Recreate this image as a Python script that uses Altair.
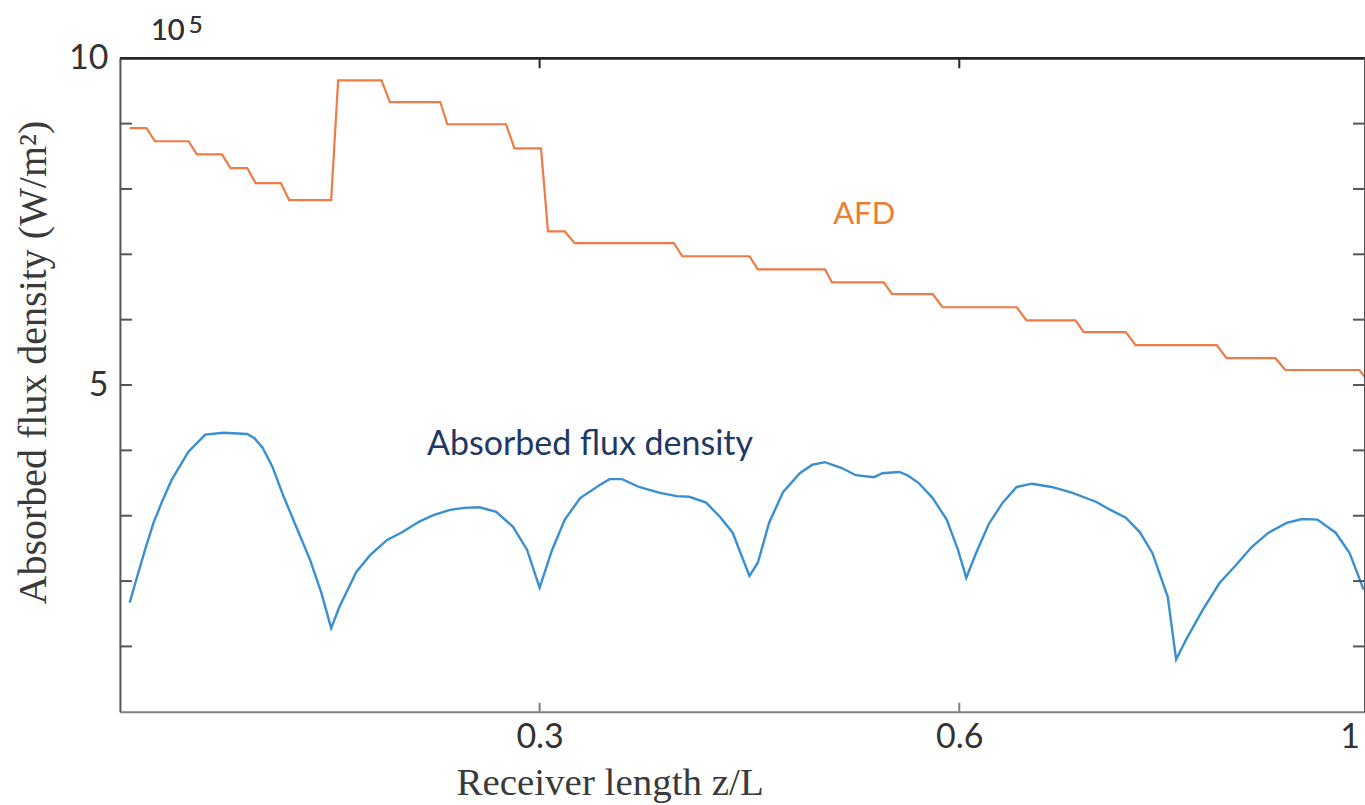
import altair as alt
import pandas as pd

# ---- data (z/L, flux density in 10^5 W/m^2) ----
afd_x = [0.007, 0.019, 0.025, 0.049, 0.055, 0.073, 0.079, 0.091, 0.097, 0.115,
         0.121, 0.151, 0.156, 0.187, 0.193, 0.229, 0.234, 0.276, 0.282, 0.301,
         0.306, 0.318, 0.325, 0.396, 0.402, 0.450, 0.456, 0.504, 0.509, 0.546,
         0.552, 0.581, 0.588, 0.641, 0.648, 0.683, 0.689, 0.719, 0.726, 0.784,
         0.791, 0.826, 0.833, 0.886, 0.890]
afd_y = [8.93, 8.93, 8.73, 8.73, 8.53, 8.53, 8.32, 8.32, 8.09, 8.09,
         7.83, 7.83, 9.66, 9.66, 9.33, 9.33, 8.99, 8.99, 8.62, 8.62,
         7.35, 7.35, 7.17, 7.17, 6.97, 6.97, 6.77, 6.77, 6.57, 6.57,
         6.39, 6.39, 6.19, 6.19, 5.99, 5.99, 5.81, 5.81, 5.61, 5.61,
         5.41, 5.41, 5.23, 5.23, 5.12]

abs_x = [0.007, 0.011, 0.018, 0.024, 0.030, 0.037, 0.049, 0.061, 0.074, 0.091,
         0.096, 0.102, 0.109, 0.116, 0.126, 0.136, 0.144, 0.151, 0.157, 0.169,
         0.179, 0.191, 0.202, 0.214, 0.224, 0.236, 0.246, 0.257, 0.269, 0.281,
         0.291, 0.300, 0.309, 0.318, 0.329, 0.343, 0.350, 0.359, 0.371, 0.386,
         0.398, 0.407, 0.419, 0.429, 0.438, 0.450, 0.456, 0.464, 0.474, 0.486,
         0.495, 0.504, 0.516, 0.526, 0.539, 0.545, 0.557, 0.563, 0.571, 0.581,
         0.591, 0.599, 0.605, 0.612, 0.621, 0.631, 0.641, 0.652, 0.666, 0.681,
         0.698, 0.707, 0.719, 0.729, 0.738, 0.749, 0.755, 0.762, 0.774, 0.786,
         0.798, 0.809, 0.821, 0.834, 0.845, 0.856, 0.869, 0.879, 0.889]
abs_y = [1.67, 1.97, 2.48, 2.89, 3.21, 3.55, 3.98, 4.24, 4.27, 4.25,
         4.19, 4.04, 3.75, 3.35, 2.83, 2.32, 1.82, 1.28, 1.61, 2.14,
         2.40, 2.63, 2.75, 2.91, 3.01, 3.09, 3.12, 3.13, 3.06, 2.83,
         2.48, 1.90, 2.48, 2.94, 3.27, 3.47, 3.56, 3.56, 3.44, 3.35,
         3.30, 3.29, 3.20, 2.98, 2.74, 2.08, 2.28, 2.89, 3.36, 3.65,
         3.78, 3.82, 3.73, 3.62, 3.59, 3.65, 3.67, 3.62, 3.50, 3.27,
         2.94, 2.48, 2.05, 2.43, 2.87, 3.20, 3.44, 3.49, 3.44, 3.35,
         3.21, 3.10, 2.97, 2.75, 2.43, 1.76, 0.80, 1.10, 1.56, 1.97,
         2.25, 2.52, 2.74, 2.89, 2.95, 2.94, 2.74, 2.43, 1.87]

x_tick_marks = [0.3, 0.6]
x_label_values = [0.3, 0.6, 0.879]
y_tick_marks = [1, 2, 3, 4, 5, 6, 7, 8, 9]
y_label_values = [5, 10]

ann_text = ["AFD", "Absorbed flux density"]
ann_x = [0.532, 0.336]
ann_y = [7.46, 3.93]
ann_color = ["#ED7D31", "#1F3864"]
ann_size = [31, 34]

W, H = 1246, 654
xs = alt.Scale(domain=[0, 0.89], nice=False, zero=False)
ys = alt.Scale(domain=[0, 10], nice=False, zero=True)

afd = pd.DataFrame({"z": afd_x, "q": afd_y})
absd = pd.DataFrame({"z": abs_x, "q": abs_y})
xt = pd.DataFrame({"z": x_tick_marks})
yt = pd.DataFrame({"q": y_tick_marks})
ann = pd.DataFrame({"z": ann_x, "q": ann_y, "t": ann_text, "c": ann_color, "s": ann_size})

xaxis = alt.Axis(values=x_label_values,
                 labelExpr="datum.value > 0.8 ? '1' : format(datum.value, '.1f')",
                 tickSize=0, domainColor="#7f7f7f", domainWidth=2, grid=False,
                 labelFont="Lato", labelFontSize=34, labelColor="#333333",
                 labelPadding=9, labelFlush=False, labelOverlap=False,
                 title="Receiver length z/L", titleFont="Liberation Serif",
                 titleFontSize=39, titleFontWeight="normal", titleColor="#3a3a3a",
                 titleX=490, titleY=83, titleAlign="center", titleBaseline="alphabetic")
yaxis = alt.Axis(values=y_label_values, tickSize=0, domainColor="#555555",
                 domainWidth=2, grid=False, labelFont="Lato", labelFontSize=34,
                 labelColor="#333333", labelPadding=12, labelFlush=False,
                 title="Absorbed flux density (W/m²)", titleFont="Liberation Serif",
                 titleFontSize=40, titleFontWeight="normal", titleColor="#3a3a3a",
                 titleAngle=270, titleX=-74, titleY=304, titleAlign="center",
                 titleBaseline="alphabetic")

X = alt.X("z:Q", scale=xs, axis=xaxis)
Y = alt.Y("q:Q", scale=ys, axis=yaxis)

orange = alt.Chart(afd).mark_line(color="#EE7B45", strokeWidth=2.2, clip=True).encode(
    x=X, y=Y)
blue = alt.Chart(absd).mark_line(color="#3A8FD0", strokeWidth=2.4, clip=True).encode(
    x=X, y=Y)

top_ticks = alt.Chart(xt).mark_rule(color="#262626", strokeWidth=2).encode(
    x=X, y=alt.value(0), y2=alt.value(10))
bot_ticks = alt.Chart(xt).mark_rule(color="#7f7f7f", strokeWidth=2).encode(
    x=X, y=alt.value(H), y2=alt.value(H - 9))
left_ticks = alt.Chart(yt).mark_rule(color="#555555", strokeWidth=2).encode(
    y=Y, x=alt.value(0), x2=alt.value(12))
right_ticks = alt.Chart(yt).mark_rule(color="#555555", strokeWidth=2).encode(
    y=Y, x=alt.value(W), x2=alt.value(W - 12))
top_border = alt.Chart(xt).mark_rule(color="#262626", strokeWidth=2.5).encode(
    y=alt.value(0), x=alt.value(0), x2=alt.value(W))
right_border = alt.Chart(xt).mark_rule(color="#555555", strokeWidth=2).encode(
    x=alt.value(W), y=alt.value(0), y2=alt.value(H))

labels = alt.Chart(ann).mark_text(font="Lato", baseline="alphabetic",
                                  align="center").encode(
    x=X, y=Y, text="t:N", color=alt.Color("c:N", scale=None),
    size=alt.Size("s:Q", scale=None))

exp_base = alt.Chart(xt).mark_text(font="Lato", fontSize=29, color="#333333",
                                   align="left", baseline="alphabetic").encode(
    x=alt.value(31), y=alt.value(-18), text=alt.value("10"))
exp_pow = alt.Chart(xt).mark_text(font="Lato", fontSize=24, color="#333333",
                                  align="left", baseline="alphabetic").encode(
    x=alt.value(69), y=alt.value(-25), text=alt.value("5"))

chart = alt.layer(orange, blue, top_ticks, bot_ticks, left_ticks, right_ticks,
                  top_border, right_border, labels, exp_base, exp_pow).properties(
    width=W, height=H,
    autosize=alt.AutoSizeParams(type="none"),
    padding={"left": 120, "top": 58, "right": 0, "bottom": 93},
    background="white",
).configure_view(stroke=None)

chart.save("out.html", embed_options={"renderer": "svg", "actions": False})
